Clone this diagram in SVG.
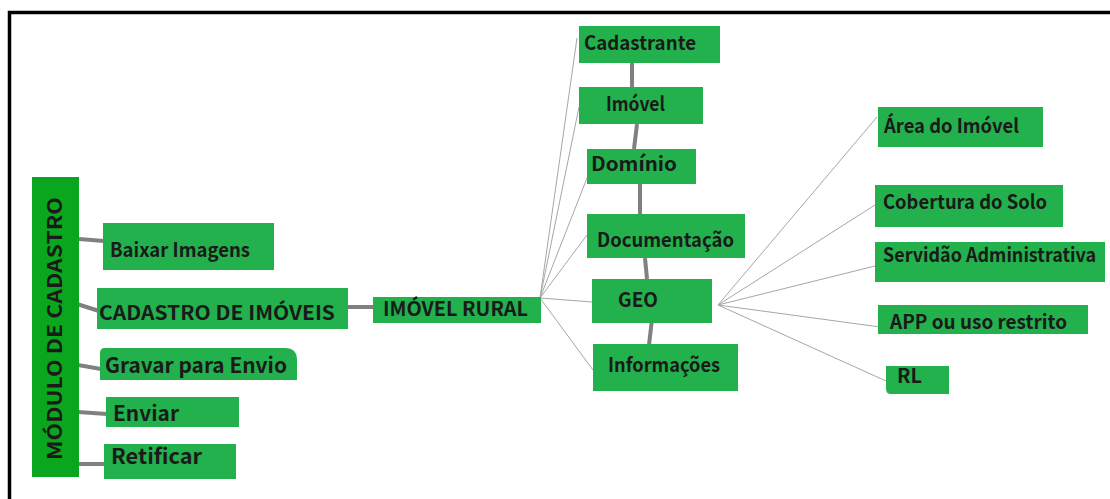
<svg xmlns="http://www.w3.org/2000/svg" width="1110" height="499" viewBox="0 0 1110 499">
<style>
.box{fill:#22b14c}
.bar{fill:#0aa61e}
.t{font-family:"Noto Sans CJK JP","Noto Sans",sans-serif;font-weight:700;font-size:19.5px;fill:#1a1a1a}
.big{font-size:21px}
.thick{stroke:#808080;stroke-width:4;fill:none}
.thin{stroke:#a6a6a6;stroke-width:1;fill:none}
</style>
<rect width="1110" height="499" fill="#fff"/>
<path d="M9.5 499 V12.5 H1110" fill="none" stroke="#000" stroke-width="3.5"/>
<g id="connectors">
<line class="thick" x1="79" y1="239" x2="104" y2="241"/>
<line class="thick" x1="77" y1="304" x2="99" y2="311"/>
<line class="thick" x1="78" y1="365" x2="101" y2="369"/>
<line class="thick" x1="78" y1="412" x2="107" y2="414"/>
<line class="thick" x1="78" y1="464" x2="105" y2="464"/>
<line class="thick" x1="347" y1="307" x2="373" y2="307"/>
<line class="thick" x1="632" y1="63" x2="632" y2="88"/>
<line class="thick" x1="637" y1="124" x2="634" y2="149"/>
<line class="thick" x1="640" y1="184" x2="640" y2="215"/>
<line class="thick" x1="645" y1="258" x2="647" y2="279"/>
<line class="thick" x1="652" y1="319" x2="649" y2="345"/>
<line class="thin" x1="540" y1="298" x2="577" y2="38"/>
<line class="thin" x1="540" y1="298" x2="579" y2="107"/>
<line class="thin" x1="540" y1="298" x2="587" y2="178"/>
<line class="thin" x1="540" y1="298" x2="587" y2="235"/>
<line class="thin" x1="540" y1="298" x2="592" y2="302"/>
<line class="thin" x1="540" y1="298" x2="593" y2="370"/>
<line class="thin" x1="718" y1="305" x2="877" y2="117"/>
<line class="thin" x1="718" y1="305" x2="875" y2="205"/>
<line class="thin" x1="718" y1="305" x2="875" y2="266"/>
<line class="thin" x1="718" y1="305" x2="880" y2="327"/>
<line class="thin" x1="718" y1="305" x2="886" y2="381"/>
</g>
<g id="modulo">
<rect class="bar" x="32" y="177" width="47" height="300"/>
<text class="t" transform="translate(62,460) rotate(-90)" font-size="22" textLength="263" lengthAdjust="spacingAndGlyphs">MÓDULO DE CADASTRO</text>
</g>
<g id="baixar">
<rect class="box" x="103" y="223" width="171" height="47"/>
<text class="t" x="110" y="257" textLength="140" lengthAdjust="spacingAndGlyphs">Baixar Imagens</text>
</g>
<g id="cadastro-imoveis">
<rect class="box" x="97" y="288" width="251" height="41"/>
<text class="t" x="99" y="320" textLength="236" lengthAdjust="spacingAndGlyphs">CADASTRO DE IMÓVEIS</text>
</g>
<g id="gravar">
<path class="box" d="M100 353 Q100 348 105 348 H285 Q297 348 297 360 V380 H100 Z"/>
<text class="t big" x="105" y="373" textLength="182" lengthAdjust="spacingAndGlyphs">Gravar para Envio</text>
</g>
<g id="enviar">
<rect class="box" x="106" y="397" width="133" height="30"/>
<text class="t big" x="113" y="421" textLength="66" lengthAdjust="spacingAndGlyphs">Enviar</text>
</g>
<g id="retificar">
<rect class="box" x="104" y="444" width="132" height="35"/>
<text class="t big" x="111" y="464" textLength="91" lengthAdjust="spacingAndGlyphs">Retificar</text>
</g>
<g id="imovel-rural">
<rect class="box" x="373" y="297" width="168" height="26"/>
<text class="t" x="383" y="316" textLength="145" lengthAdjust="spacingAndGlyphs">IMÓVEL RURAL</text>
</g>
<g id="cadastrante">
<rect class="box" x="579" y="26" width="141" height="37"/>
<text class="t" x="584" y="50" textLength="112" lengthAdjust="spacingAndGlyphs">Cadastrante</text>
</g>
<g id="imovel">
<rect class="box" x="579" y="87" width="124" height="37"/>
<text class="t" x="606" y="111" textLength="59" lengthAdjust="spacingAndGlyphs">Imóvel</text>
</g>
<g id="dominio">
<rect class="box" x="587" y="149" width="109" height="35"/>
<text class="t" x="591" y="171" textLength="86" lengthAdjust="spacingAndGlyphs">Domínio</text>
</g>
<g id="documentacao">
<rect class="box" x="587" y="214" width="158" height="44"/>
<text class="t" x="597" y="247" textLength="137" lengthAdjust="spacingAndGlyphs">Documentação</text>
</g>
<g id="geo">
<rect class="box" x="592" y="279" width="120" height="44"/>
<text class="t" x="618" y="307" textLength="40" lengthAdjust="spacingAndGlyphs">GEO</text>
</g>
<g id="informacoes">
<rect class="box" x="593" y="344" width="145" height="47"/>
<text class="t" x="608" y="372" textLength="112" lengthAdjust="spacingAndGlyphs">Informações</text>
</g>
<g id="area">
<rect class="box" x="878" y="107" width="165" height="40"/>
<text class="t" x="884" y="133" textLength="135" lengthAdjust="spacingAndGlyphs">Área do Imóvel</text>
</g>
<g id="cobertura">
<rect class="box" x="875" y="185" width="188" height="42"/>
<text class="t" x="883" y="209" textLength="164" lengthAdjust="spacingAndGlyphs">Cobertura do Solo</text>
</g>
<g id="servidao">
<rect class="box" x="875" y="242" width="230" height="40"/>
<text class="t" x="883" y="262" textLength="213" lengthAdjust="spacingAndGlyphs">Servidão Administrativa</text>
</g>
<g id="app">
<rect class="box" x="878" y="305" width="210" height="29"/>
<text class="t" x="890" y="329" textLength="177" lengthAdjust="spacingAndGlyphs">APP ou uso restrito</text>
</g>
<g id="rl">
<path class="box" d="M886 366 H949 V394 H891 Q886 394 886 389 Z"/>
<text class="t" x="897" y="383" textLength="25" lengthAdjust="spacingAndGlyphs">RL</text>
</g>
</svg>
